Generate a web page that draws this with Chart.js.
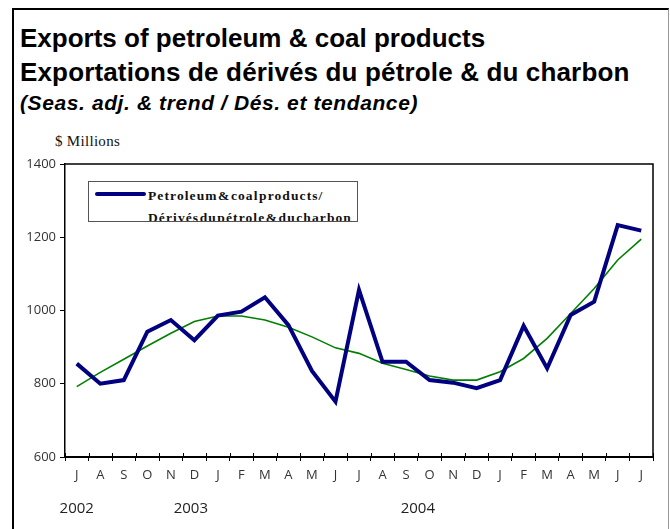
<!DOCTYPE html>
<html>
<head>
<meta charset="utf-8">
<script src="https://cdn.jsdelivr.net/npm/chart.js@4/dist/chart.umd.min.js"></script>
<style>
  html, body { margin: 0; padding: 0; background: #fff; }
  body { width: 670px; height: 529px; position: relative; overflow: hidden; }
  #frame { position: absolute; left: 12px; top: 8px; width: 654px; height: 540px;
           border-left: 2px solid #000; border-top: 2px solid #000; border-right: 1px solid #999; }
  .t { position: absolute; left: 20px; font-family: "Liberation Sans", Arial, sans-serif;
       font-weight: bold; color: #000; white-space: nowrap; }
  #t1 { top: 25px; font-size: 26px; line-height: 26px; }
  #t2 { top: 59px; font-size: 26px; line-height: 26px; letter-spacing: 0.15px; }
  #t3 { top: 92px; font-size: 21px; line-height: 21px; font-style: italic; letter-spacing: 0.6px; }
  #unit { position: absolute; left: 55px; top: 134px; font-family: "Liberation Serif", serif;
          font-size: 15px; line-height: 15px; letter-spacing: 0.3px; color: #111; }
  #legend { position: absolute; left: 88px; top: 181px; width: 268px; height: 39px;
            border: 1px solid #555; background: #fff; overflow: hidden;
            font-family: "Liberation Serif", serif; font-weight: bold; font-size: 13.5px; color: #111; }
  #legend .sw { position: absolute; left: 6px; top: 10px; width: 51px; height: 4px;
                background: #000080; border-radius: 2px; }
  #legend .lb { position: absolute; left: 59px; top: 3px; line-height: 22px;
                letter-spacing: 1.1px; word-spacing: -4px; white-space: nowrap; }
  canvas { position: absolute; left: 0; top: 0; }
</style>
</head>
<body>
<div id="frame"></div>
<div class="t" id="t1">Exports of petroleum &amp; coal products</div>
<div class="t" id="t2">Exportations de dérivés du pétrole &amp; du charbon</div>
<div class="t" id="t3">(Seas. adj. &amp; trend / Dés. et tendance)</div>
<div id="unit">$ Millions</div>
<canvas id="chart" width="670" height="529"></canvas>
<div id="legend"><div class="sw"></div><div class="lb">Petroleum &amp; coal products/<br>Dérivés du pétrole &amp; du charbon</div></div>
<script>
"use strict";

// Jul 2002 .. Jul 2004
var months = ['J','A','S','O','N','D','J','F','M','A','M','J','J','A','S','O','N','D','J','F','M','A','M','J','J'];
var years  = ['2002', '2003', '2004'];
var yearAt = [0, 4.85, 14.5];

var exportsSA = [855, 800, 810, 942, 974, 919, 986, 997, 1036, 960, 835, 751,
                 1056, 860, 860, 810, 803, 788, 810, 958, 842, 988, 1024, 1233, 1218];
var exportsTrend = [792, 831, 867, 903, 938, 970, 985, 985, 974, 954, 928, 898,
                    883, 856, 839, 821, 810, 810, 833, 869, 924, 992, 1060, 1138, 1195];

var yTicks = [600, 800, 1000, 1200, 1400];

var AXIS_FONT = { family: "'Open Sans', 'DejaVu Sans', sans-serif", size: 13 };

// years under the month row, plus plot box top/right
var extras = {
  id: 'extras',
  afterDraw: function (chart) {
    var ctx = chart.ctx, a = chart.chartArea, x = chart.scales.x;
    ctx.save();
    ctx.strokeStyle = '#000';
    ctx.lineWidth = 1.5;
    ctx.beginPath();
    ctx.moveTo(a.left, a.top);
    ctx.lineTo(a.right, a.top);
    ctx.lineTo(a.right, a.bottom);
    ctx.stroke();
    // tick marks poke up into the plot as well
    ctx.lineWidth = 1;
    for (var i = 0; i <= months.length; i++) {
      var px = Math.round(x.getPixelForValue(i - 0.5)) + 0.5;
      ctx.beginPath();
      ctx.moveTo(px, a.bottom);
      ctx.lineTo(px, a.bottom - 4);
      ctx.stroke();
    }
    ctx.fillStyle = '#222';
    ctx.font = "15px 'Open Sans', 'DejaVu Sans', sans-serif";
    ctx.textAlign = 'center';
    ctx.textBaseline = 'middle';
    years.forEach(function (y, k) {
      ctx.fillText(y, x.getPixelForValue(yearAt[k]), 509);
    });
    ctx.restore();
  }
};

new Chart(document.getElementById('chart'), {
  type: 'line',
  data: {
    labels: months,
    datasets: [{
      label: 'Petroleum & coal products',
      data: exportsSA,
      borderColor: '#000080',
      borderWidth: 4,
      pointRadius: 0,
      tension: 0
    }, {
      label: 'Trend',
      data: exportsTrend,
      borderColor: '#008000',
      borderWidth: 1.6,
      pointRadius: 0,
      tension: 0
    }]
  },
  options: {
    responsive: false,
    animation: false,
    devicePixelRatio: 1,
    layout: { padding: { left: 0, right: 17, top: 164, bottom: 0 } },
    plugins: { legend: { display: false }, tooltip: { enabled: false } },
    scales: {
      x: {
        offset: true,
        afterFit: function (s) { s.height = 72; },
        grid: { offset: true, drawOnChartArea: false, drawTicks: true, tickLength: 4, color: '#000' },
        border: { display: true, color: '#000', width: 2 },
        ticks: { color: '#333', font: AXIS_FONT, padding: 6, autoSkip: false, maxRotation: 0 }
      },
      y: {
        min: 600,
        max: 1400,
        afterFit: function (s) { s.width = 65; },
        afterBuildTicks: function (s) { s.ticks = yTicks.map(function (v) { return { value: v }; }); },
        grid: { drawOnChartArea: false, drawTicks: true, tickLength: 5, color: '#000' },
        border: { display: true, color: '#000', width: 1.5 },
        ticks: { color: '#333', font: AXIS_FONT, padding: 4,
                 callback: function (v) { return String(v); } }
      }
    }
  },
  plugins: [extras]
});
</script>
</body>
</html>
